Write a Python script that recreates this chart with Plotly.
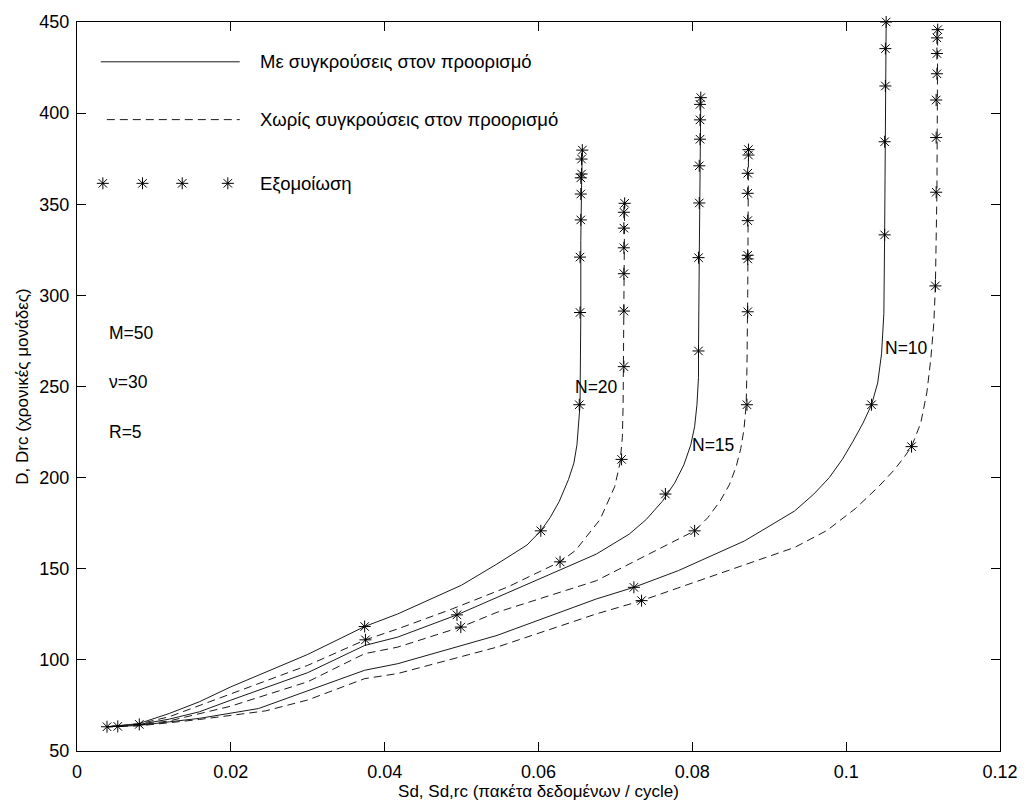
import plotly.graph_objects as go

# ---------------- data ----------------
# analytic curves: "with collisions at destination" (solid) and "without" (dashed)
n20_col_x = [0.0039, 0.008, 0.012, 0.0159, 0.02, 0.03, 0.0374, 0.0417, 0.05, 0.0546, 0.0585, 0.0603, 0.0615, 0.0627, 0.0639, 0.0646, 0.065, 0.0652, 0.0654, 0.0655, 0.0655, 0.0656, 0.0657]
n20_col_y = [63.3, 65.0, 70.6, 77.0, 85.2, 103.0, 118.3, 125.2, 141.0, 152.6, 163.0, 170.8, 178.0, 187.0, 199.0, 208.0, 218.0, 228.0, 240.0, 290.0, 330.0, 360.0, 380.0]
n20_nocol_x = [0.0039, 0.008, 0.012, 0.02, 0.03, 0.0375, 0.0417, 0.0488, 0.056, 0.0628, 0.0648, 0.068, 0.0699, 0.0706, 0.0709, 0.071, 0.0711, 0.0712]
n20_nocol_y = [63.3, 64.8, 68.8, 81.5, 97.0, 111.0, 117.0, 128.0, 140.0, 153.8, 160.0, 177.0, 195.0, 208.0, 222.0, 240.0, 300.0, 350.5]

n15_col_x = [0.0039, 0.008, 0.012, 0.0159, 0.02, 0.03, 0.0374, 0.0417, 0.0494, 0.0546, 0.0675, 0.0718, 0.074, 0.0761, 0.0777, 0.0789, 0.0798, 0.0803, 0.0806, 0.0808, 0.0808, 0.0809, 0.081, 0.0811]
n15_col_y = [63.3, 64.5, 67.5, 71.5, 77.9, 93.0, 107.9, 112.5, 124.7, 134.3, 158.0, 169.0, 177.0, 187.0, 197.0, 207.0, 218.0, 228.0, 240.0, 255.0, 269.5, 320.0, 380.0, 408.5]
n15_nocol_x = [0.0039, 0.008, 0.012, 0.02, 0.03, 0.0374, 0.0417, 0.0499, 0.0546, 0.0675, 0.0803, 0.082, 0.0836, 0.0848, 0.0857, 0.0863, 0.0867, 0.087, 0.0871, 0.0872, 0.0873]
n15_nocol_y = [63.3, 64.3, 66.5, 74.6, 88.0, 103.4, 107.0, 118.0, 126.1, 143.4, 170.8, 178.0, 187.0, 196.0, 206.0, 216.0, 226.0, 240.0, 260.0, 300.0, 380.0]

n10_col_x = [0.0039, 0.008, 0.012, 0.0159, 0.0236, 0.03, 0.0374, 0.0417, 0.0546, 0.0675, 0.0724, 0.0782, 0.0868, 0.0933, 0.0958, 0.0978, 0.0995, 0.1009, 0.1022, 0.1033, 0.1041, 0.1046, 0.1049, 0.105, 0.1051, 0.1052]
n10_col_y = [63.3, 64.0, 66.0, 67.9, 73.3, 83.0, 94.3, 97.9, 113.4, 133.4, 139.8, 149.0, 165.3, 181.7, 191.0, 200.0, 210.0, 220.0, 230.0, 240.0, 252.0, 268.0, 290.0, 333.0, 400.0, 450.0]
n10_nocol_x = [0.0039, 0.008, 0.012, 0.0159, 0.0245, 0.03, 0.0374, 0.0417, 0.0546, 0.0675, 0.0734, 0.0933, 0.0975, 0.1012, 0.1042, 0.1062, 0.1075, 0.1085, 0.1097, 0.1105, 0.111, 0.1114, 0.1116, 0.1118, 0.1119]
n10_nocol_y = [63.3, 63.8, 65.5, 67.3, 72.0, 78.0, 89.7, 92.5, 107.0, 125.2, 132.5, 161.7, 171.0, 183.0, 195.0, 204.0, 211.0, 217.0, 230.0, 247.0, 265.0, 285.0, 305.0, 357.0, 446.0]

# simulation points (stars)
sim_start_x = [0.0039, 0.0053, 0.0081]
sim_start_y = [63.3, 63.5, 64.6]
sim_n20_col_x = [0.0374, 0.0603, 0.0653, 0.0654, 0.0654, 0.0655, 0.0655, 0.0655, 0.0656, 0.0656, 0.0657]
sim_n20_col_y = [118.3, 170.8, 240.0, 290.6, 321.0, 341.4, 355.6, 364.5, 366.6, 374.8, 379.7]
sim_n20_nocol_x = [0.0375, 0.0628, 0.0708, 0.0711, 0.0711, 0.0711, 0.0711, 0.0711, 0.0711, 0.0712]
sim_n20_nocol_y = [111.0, 153.8, 210.0, 260.9, 291.4, 311.9, 326.1, 336.9, 345.6, 350.5]
sim_n15_col_x = [0.0494, 0.0765, 0.0808, 0.0808, 0.0809, 0.0809, 0.081, 0.081, 0.081, 0.0811]
sim_n15_col_y = [124.7, 191.0, 269.5, 320.7, 350.7, 371.1, 385.7, 396.3, 404.8, 408.5]
sim_n15_nocol_x = [0.0499, 0.0803, 0.0871, 0.0872, 0.0872, 0.0872, 0.0872, 0.0872, 0.0872, 0.0873, 0.0873]
sim_n15_nocol_y = [118.0, 170.8, 240.0, 291.0, 320.0, 322.0, 341.0, 356.0, 367.0, 377.0, 380.0]
sim_n10_col_x = [0.0724, 0.1033, 0.105, 0.105, 0.1051, 0.1051, 0.1052]
sim_n10_col_y = [139.8, 240.0, 333.2, 384.3, 414.9, 435.4, 450.0]
sim_n10_nocol_x = [0.0734, 0.1085, 0.1116, 0.1117, 0.1117, 0.1117, 0.1118, 0.1118, 0.1118, 0.1119]
sim_n10_nocol_y = [132.5, 217.0, 305.2, 356.6, 386.6, 407.2, 421.6, 432.7, 441.3, 445.8]

x_ticks = [0, 0.02, 0.04, 0.06, 0.08, 0.1, 0.12]
x_tick_text = ["0", "0.02", "0.04", "0.06", "0.08", "0.1", "0.12"]
y_ticks = [50, 100, 150, 200, 250, 300, 350, 400, 450]

legend_labels = ["Με συγκρούσεις στον προορισμό", "Χωρίς συγκρούσεις στον προορισμό", "Εξομοίωση"]
param_labels = ["M=50", "ν=30", "R=5"]
curve_labels = [("N=20", 0.0676, 250), ("N=15", 0.0827, 218), ("N=10", 0.1079, 271)]

# ---------------- figure ----------------
FONT = "Liberation Sans, Arial, sans-serif"
LINE_COLOR = "#1a1a1a"
DASH = "8px,5px"

fig = go.Figure()

curves = [
    (n20_col_x, n20_col_y, "solid"), (n20_nocol_x, n20_nocol_y, DASH),
    (n15_col_x, n15_col_y, "solid"), (n15_nocol_x, n15_nocol_y, DASH),
    (n10_col_x, n10_col_y, "solid"), (n10_nocol_x, n10_nocol_y, DASH),
]
for cx, cy, d in curves:
    fig.add_trace(go.Scatter(x=cx, y=cy, mode="lines", showlegend=False,
                             line=dict(color=LINE_COLOR, width=1, dash=d)))

stars = [
    (sim_start_x, sim_start_y),
    (sim_n20_col_x, sim_n20_col_y), (sim_n20_nocol_x, sim_n20_nocol_y),
    (sim_n15_col_x, sim_n15_col_y), (sim_n15_nocol_x, sim_n15_nocol_y),
    (sim_n10_col_x, sim_n10_col_y), (sim_n10_nocol_x, sim_n10_nocol_y),
]
star_marker = dict(symbol="asterisk-open", size=10, color="black",
                   line=dict(color="black", width=1))
for sx, sy in stars:
    fig.add_trace(go.Scatter(x=sx, y=sy, mode="markers", showlegend=False,
                             marker=star_marker, cliponaxis=False))

# ---- hand-drawn legend (as in the original figure), on a hidden 0..1 overlay axis ----
leg_line_y = [0.9454, 0.8661]
leg_star_y = 0.7787
fig.add_trace(go.Scatter(x=[0.0258, 0.1763], y=[leg_line_y[0]] * 2, mode="lines",
                         xaxis="x2", yaxis="y2", showlegend=False,
                         line=dict(color=LINE_COLOR, width=1)))
fig.add_trace(go.Scatter(x=[0.0323, 0.1763], y=[leg_line_y[1]] * 2, mode="lines",
                         xaxis="x2", yaxis="y2", showlegend=False,
                         line=dict(color=LINE_COLOR, width=1, dash=DASH)))
fig.add_trace(go.Scatter(x=[0.028, 0.071, 0.114, 0.1634], y=[leg_star_y] * 4, mode="markers",
                         xaxis="x2", yaxis="y2", showlegend=False, marker=star_marker))

annotations = []
for lbl, yy in zip(legend_labels, leg_line_y + [leg_star_y]):
    annotations.append(dict(text=lbl, xref="paper", yref="paper", x=0.1957, y=yy,
                            xanchor="left", yanchor="middle", showarrow=False,
                            font=dict(size=18.5, color="black", family=FONT)))
for lbl, yy in zip(param_labels, [0.5738, 0.5055, 0.4372]):
    annotations.append(dict(text=lbl, xref="paper", yref="paper", x=0.0323, y=yy,
                            xanchor="left", yanchor="middle", showarrow=False,
                            font=dict(size=17.5, color="black", family=FONT)))
for lbl, xx, yy in curve_labels:
    annotations.append(dict(text=lbl, xref="x", yref="y", x=xx, y=yy,
                            xanchor="center", yanchor="middle", showarrow=False,
                            font=dict(size=17.5, color="black", family=FONT)))

axis_common = dict(showline=True, linecolor="black", linewidth=1, mirror="ticks",
                   ticks="inside", ticklen=9, tickwidth=1, tickcolor="black",
                   showgrid=False, zeroline=False,
                   tickfont=dict(size=18, color="black", family=FONT))

fig.update_layout(
    width=1030, height=809,
    margin=dict(l=77, r=23, t=19, b=58),
    paper_bgcolor="white", plot_bgcolor="white",
    font=dict(family=FONT, color="black"),
    showlegend=False,
    annotations=annotations,
    xaxis=dict(range=[0, 0.12], tickvals=x_ticks, ticktext=x_tick_text,
               title=dict(text="Sd, Sd,rc (πακέτα δεδομένων / cycle)",
                          font=dict(size=17, color="black", family=FONT), standoff=4),
               ticklabelstandoff=4, **axis_common),
    yaxis=dict(range=[50, 450], tickvals=y_ticks,
               title=dict(text="D, Drc (χρονικές μονάδες)",
                          font=dict(size=17, color="black", family=FONT), standoff=6),
               ticklabelstandoff=3, **axis_common),
    xaxis2=dict(range=[0, 1], overlaying="x", visible=False),
    yaxis2=dict(range=[0, 1], overlaying="y", visible=False),
)

fig.write_html("out.html")
